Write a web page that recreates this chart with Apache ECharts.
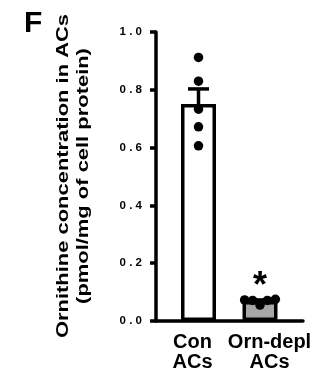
<!DOCTYPE html>
<html>
<head>
<meta charset="utf-8">
<script src="https://cdn.jsdelivr.net/npm/echarts@6/dist/echarts.min.js"></script>
<style>
html,body{margin:0;padding:0;background:#fff;}
#chart{width:328px;height:381px;}
</style>
</head>
<body>
<div id="chart"></div>
<script>
// ---- data ----
var categories = ['Con\nACs', 'Orn-depl\nACs'];
var meanValues = [0.751, 0.069];
var semValues = [0.052, 0.004];
var conPoints = [0.912, 0.830, 0.733, 0.672, 0.606];
var conJitter = [0, 0, 0, 0, 0];
var ornPoints = [0.073, 0.071, 0.055, 0.071, 0.075];
var ornJitter = [-0.25, -0.12, 0, 0.12, 0.25];
var sigMarks = ['', '*'];
var yTitle = 'Ornithine concentration in ACs\n(pmol/mg of cell protein)';
var panelLetter = 'F';
var barFills = ['#ffffff', '#a6a6a6'];
var labelPads = [[0, 12, 0, 0], [0, 0, 0, 19]];

var FONT = '"Liberation Sans", Arial, Helvetica, sans-serif';

var chart = echarts.init(document.getElementById('chart'), null, {renderer: 'canvas'});

var pointData = [];
conPoints.forEach(function (v, i) { pointData.push([1 + conJitter[i], v]); });
ornPoints.forEach(function (v, i) { pointData.push([2 + ornJitter[i], v]); });

var option = {
  animation: false,
  backgroundColor: '#ffffff',
  grid: [
    {left: 156, top: 32, width: 147, height: 289},
    {left: 167.75, top: 32, width: 123, height: 289}
  ],
  xAxis: [
    {gridIndex: 0, type: 'value', min: 0, max: 1,
     axisLine: {show: true, lineStyle: {color: '#000', width: 3.5}},
     axisTick: {show: false}, axisLabel: {show: false}, splitLine: {show: false}},
    {gridIndex: 1, type: 'category',
     data: categories.map(function (c, i) { return {value: c, textStyle: {padding: labelPads[i]}}; }),
     axisLine: {show: false}, axisTick: {show: false}, splitLine: {show: false},
     axisLabel: {color: '#000', fontFamily: FONT, fontWeight: 'bold', fontSize: 20,
                 lineHeight: 20, margin: 11, interval: 0}},
    {gridIndex: 1, type: 'value', min: 0.5, max: 2.5, show: false}
  ],
  yAxis: [
    {gridIndex: 0, type: 'value', min: 0, max: 1, interval: 0.2,
     axisLine: {show: true, lineStyle: {color: '#000', width: 3.5}},
     axisTick: {show: true, length: 6, lineStyle: {color: '#000', width: 3.5}},
     splitLine: {show: false},
     axisLabel: {color: '#000', fontFamily: FONT, fontWeight: 'bold', fontSize: 11.5, margin: 14,
       formatter: function (v) { return v.toFixed(1).split('').join(' '); }}},
    {gridIndex: 1, type: 'value', min: 0, max: 1, show: false}
  ],
  graphic: [
    {type: 'text', x: 73, y: 176, rotation: Math.PI / 2, scaleX: 1.29,
     style: {text: yTitle, font: 'bold 17px ' + FONT, fill: '#000',
             textAlign: 'center', textVerticalAlign: 'middle', lineHeight: 20}},
    {type: 'text', x: 24, y: 9,
     style: {text: panelLetter, font: 'bold 30px ' + FONT, fill: '#000',
             textAlign: 'left', textVerticalAlign: 'top'}}
  ],
  series: [
    {type: 'bar', xAxisIndex: 1, yAxisIndex: 1, barWidth: 35,
     data: meanValues.map(function (v, i) {
       return {value: v, itemStyle: {color: barFills[i], borderColor: '#000', borderWidth: 3.5}};
     }),
     label: {show: true, position: 'top', distance: -4, color: '#000',
             fontFamily: FONT, fontWeight: 'bold', fontSize: 36,
             formatter: function (p) { return sigMarks[p.dataIndex]; }}},
    {type: 'custom', xAxisIndex: 1, yAxisIndex: 1,
     data: meanValues.map(function (v, i) { return [i, v - semValues[i], v + semValues[i]]; }),
     renderItem: function (params, api) {
       var lo = api.coord([api.value(0), api.value(1)]);
       var hi = api.coord([api.value(0), api.value(2)]);
       var hw = 10.5;
       var st = {stroke: '#000', lineWidth: 3.5};
       return {type: 'group', children: [
         {type: 'line', shape: {x1: hi[0], y1: hi[1], x2: lo[0], y2: lo[1]}, style: st},
         {type: 'line', shape: {x1: hi[0] - hw, y1: hi[1], x2: hi[0] + hw, y2: hi[1]}, style: st},
         {type: 'line', shape: {x1: lo[0] - hw, y1: lo[1], x2: lo[0] + hw, y2: lo[1]}, style: st}
       ]};
     }},
    {type: 'scatter', xAxisIndex: 2, yAxisIndex: 1, symbol: 'circle', symbolSize: 9.5,
     itemStyle: {color: '#000', opacity: 1}, data: pointData}
  ]
};
chart.setOption(option);
</script>
</body>
</html>
